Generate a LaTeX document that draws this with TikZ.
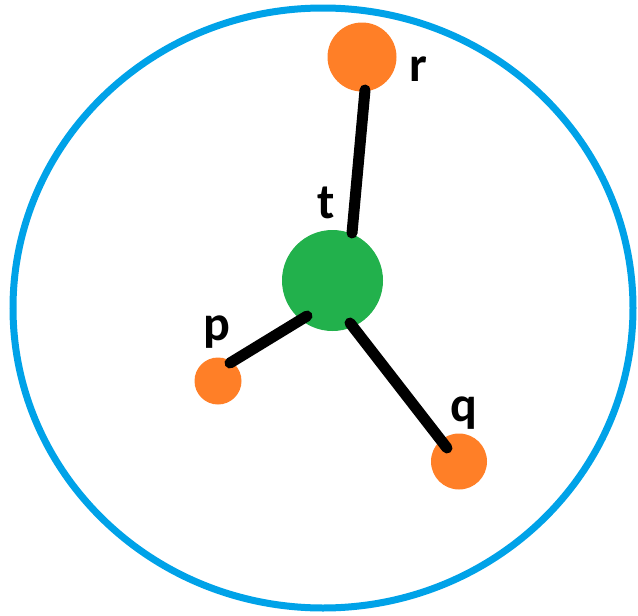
\documentclass[tikz,border=0pt]{standalone}
\usepackage{fontspec}
\setmainfont{Carlito}
\usetikzlibrary{calc}
\definecolor{paintblue}{RGB}{0,162,232}
\definecolor{paintorange}{RGB}{255,127,39}
\definecolor{paintgreen}{RGB}{34,177,76}
\tikzset{
  vert/.style={circle,fill=paintorange,inner sep=0pt},
  edge/.style={line width=11pt,line cap=round},
  lbl/.style={font=\fontsize{50}{50}\selectfont\bfseries,anchor=base,inner sep=0pt}
}
\begin{document}
\begin{tikzpicture}[x=1pt,y=-1pt]
\useasboundingbox (0,0) rectangle (638,616);
\draw[paintblue,line width=7pt] (323,308) ellipse (310 and 300);
% vertices
\node[circle,fill=paintgreen,inner sep=0pt,minimum size=101pt] (t) at (332.5,280.5) {};
\node[vert,minimum size=69pt] (r) at (362,57) {};
\node[vert,minimum size=47pt] (p) at (218,381) {};
\node[vert,minimum size=56pt] (q) at (459,461.5) {};
% end points of the edges
\coordinate (tr) at (352,233);
\coordinate (tp) at (307,316);
\coordinate (tq) at (350,323);
\coordinate (rt) at (365,90);
\coordinate (pt) at (230,363);
\coordinate (qt) at (447,448);
\draw[edge] (rt) -- (tr);
\draw[edge] (pt) -- (tp);
\draw[edge] (tq) -- (qt);
% labels
\node[lbl] (lr) at (418,81) {r};
\node[lbl] (lt) at (326,218) {t};
\node[lbl] (lp) at (217,340) {p};
\node[lbl] (lq) at (464,421) {q};
\end{tikzpicture}
\end{document}
